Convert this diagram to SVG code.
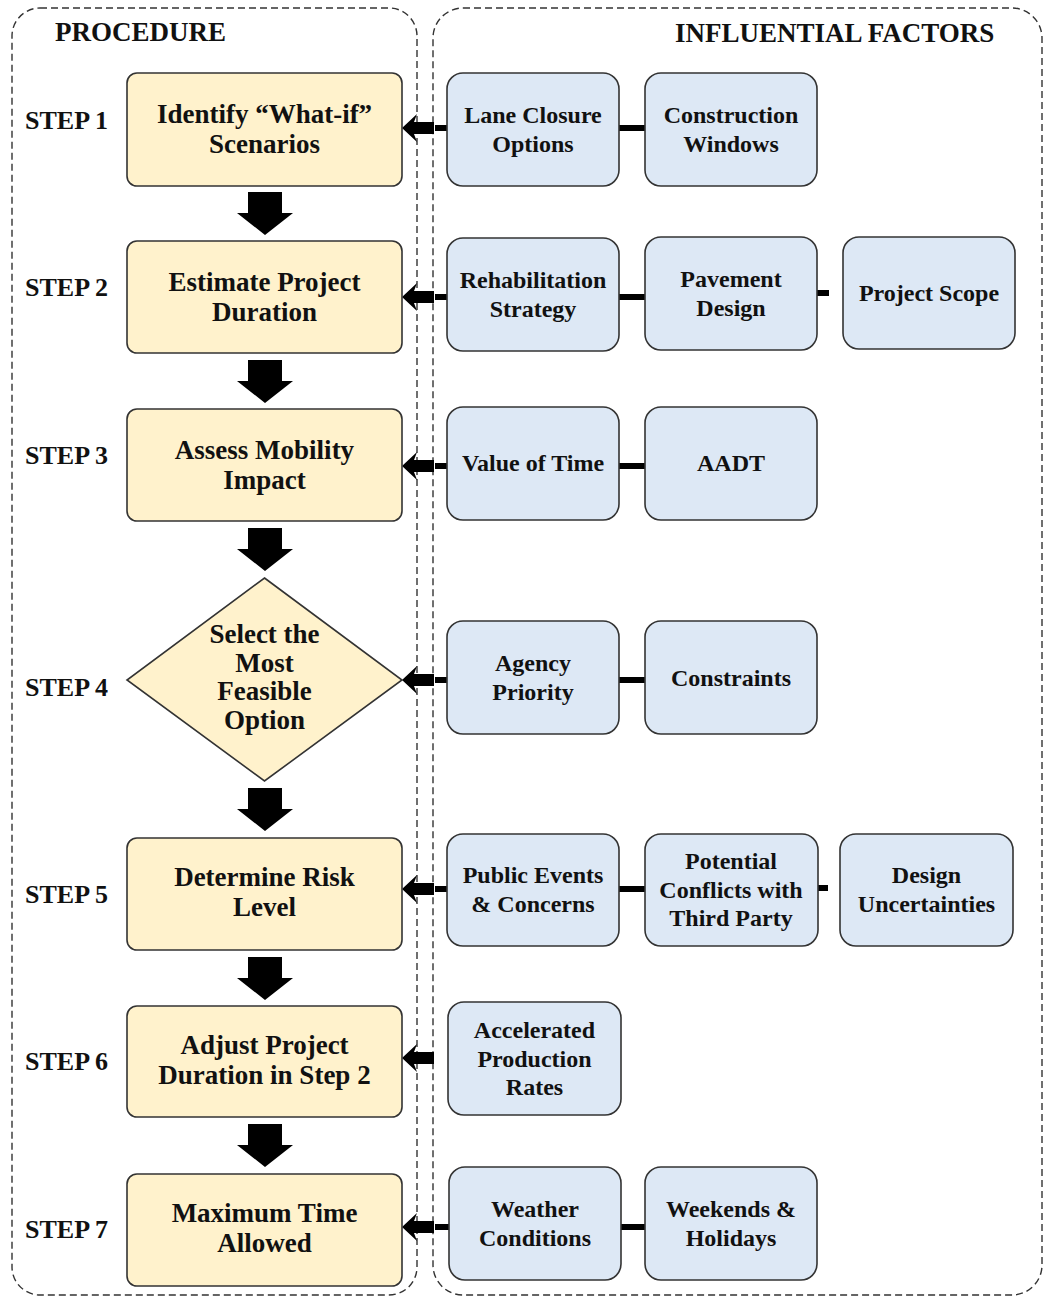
<svg xmlns="http://www.w3.org/2000/svg" width="1044" height="1296" viewBox="0 0 1044 1296">
<style>
text{font-family:"Liberation Serif","Times New Roman",serif;font-weight:bold;fill:#111;}
.hdr{font-size:27px;}
.lbl{font-size:26px;}
.st{font-size:27px;text-anchor:middle;}
.ft{font-size:24px;text-anchor:middle;}
.step{fill:#fff2cc;stroke:#333;stroke-width:1.6;}
.fac{fill:#dde8f5;stroke:#333;stroke-width:1.6;}
.cont{fill:none;stroke:#333;stroke-width:1.4;stroke-dasharray:7 4;}
.ln{stroke:#000;stroke-width:6;fill:none;}
</style>
<defs>
<path id="la" d="M0,0 L15,-14 L12,-6 L32,-6 L32,6 L12,6 L15,14 Z" fill="#000"/>
<path id="da" d="M-17,0 L17,0 L17,21 L28,21 L0,43 L-28,21 L-17,21 Z" fill="#000"/>
</defs>
<rect width="1044" height="1296" fill="#fff"/>
<g id="containers">
<rect class="cont" x="12" y="8" width="405" height="1287" rx="28"/>
<rect class="cont" x="433" y="8" width="609" height="1287" rx="30"/>
<text class="hdr" x="55" y="41">PROCEDURE</text>
<text class="hdr" x="675" y="42">INFLUENTIAL FACTORS</text>
</g>
<g id="labels">
<text class="lbl" x="25" y="129">STEP 1</text>
<text class="lbl" x="25" y="296">STEP 2</text>
<text class="lbl" x="25" y="464">STEP 3</text>
<text class="lbl" x="25" y="696">STEP 4</text>
<text class="lbl" x="25" y="903">STEP 5</text>
<text class="lbl" x="25" y="1070">STEP 6</text>
<text class="lbl" x="25" y="1238">STEP 7</text>
</g>
<g id="connectors">
<use href="#da" x="265" y="192"/>
<use href="#da" x="265" y="360"/>
<use href="#da" x="265" y="528"/>
<use href="#da" x="265" y="788"/>
<use href="#da" x="265" y="957"/>
<use href="#da" x="265" y="1124"/>
<use href="#la" x="402" y="128"/>
<use href="#la" x="402" y="297"/>
<use href="#la" x="402" y="466"/>
<use href="#la" x="402" y="680"/>
<use href="#la" x="402" y="889"/>
<use href="#la" x="402" y="1058"/>
<use href="#la" x="402" y="1227"/>
<path class="ln" d="M435,128H448 M435,297H448 M435,466H448 M435,680H448 M435,889H448 M435,1227H450"/>
<path class="ln" d="M619,128H646 M619,297H646 M817,293H829 M619,466H646 M619,680H646 M619,889H646 M818,888H828 M621,1227H646"/>
</g>
<g id="step1"><rect class="step" x="127" y="73" width="275" height="113" rx="10"/><text class="st" x="264.5" y="122.5">Identify “What-if”<tspan x="264.5" y="152.5">Scenarios</tspan></text></g>
<g id="step2"><rect class="step" x="127" y="241" width="275" height="112" rx="10"/><text class="st" x="264.5" y="291">Estimate Project<tspan x="264.5" y="321">Duration</tspan></text></g>
<g id="step3"><rect class="step" x="127" y="409" width="275" height="112" rx="10"/><text class="st" x="264.5" y="459">Assess Mobility<tspan x="264.5" y="489">Impact</tspan></text></g>
<g id="step4"><polygon class="step" points="264.5,578 402,680 264.5,781 127,680"/><text class="st" x="264.5" y="643">Select the<tspan x="264.5" y="672">Most</tspan><tspan x="264.5" y="700">Feasible</tspan><tspan x="264.5" y="729">Option</tspan></text></g>
<g id="step5"><rect class="step" x="127" y="838" width="275" height="112" rx="10"/><text class="st" x="264.5" y="886">Determine Risk<tspan x="264.5" y="916">Level</tspan></text></g>
<g id="step6"><rect class="step" x="127" y="1006" width="275" height="111" rx="10"/><text class="st" x="264.5" y="1054">Adjust Project<tspan x="264.5" y="1084">Duration in Step 2</tspan></text></g>
<g id="step7"><rect class="step" x="127" y="1174" width="275" height="112" rx="10"/><text class="st" x="264.5" y="1222">Maximum Time<tspan x="264.5" y="1252">Allowed</tspan></text></g>
<g id="f-lane"><rect class="fac" x="447" y="73" width="172" height="113" rx="16"/><text class="ft" x="533" y="123">Lane Closure<tspan x="533" y="152">Options</tspan></text></g>
<g id="f-windows"><rect class="fac" x="645" y="73" width="172" height="113" rx="16"/><text class="ft" x="731" y="123">Construction<tspan x="731" y="152">Windows</tspan></text></g>
<g id="f-rehab"><rect class="fac" x="447" y="238" width="172" height="113" rx="16"/><text class="ft" x="533" y="288">Rehabilitation<tspan x="533" y="317">Strategy</tspan></text></g>
<g id="f-pavement"><rect class="fac" x="645" y="237" width="172" height="113" rx="16"/><text class="ft" x="731" y="287">Pavement<tspan x="731" y="316">Design</tspan></text></g>
<g id="f-scope"><rect class="fac" x="843" y="237" width="172" height="112" rx="16"/><text class="ft" x="929" y="301">Project Scope</text></g>
<g id="f-vot"><rect class="fac" x="447" y="407" width="172" height="113" rx="16"/><text class="ft" x="533" y="471">Value of Time</text></g>
<g id="f-aadt"><rect class="fac" x="645" y="407" width="172" height="113" rx="16"/><text class="ft" x="731" y="471">AADT</text></g>
<g id="f-agency"><rect class="fac" x="447" y="621" width="172" height="113" rx="16"/><text class="ft" x="533" y="671">Agency<tspan x="533" y="700">Priority</tspan></text></g>
<g id="f-constraints"><rect class="fac" x="645" y="621" width="172" height="113" rx="16"/><text class="ft" x="731" y="686">Constraints</text></g>
<g id="f-public"><rect class="fac" x="447" y="834" width="172" height="112" rx="16"/><text class="ft" x="533" y="883">Public Events<tspan x="533" y="912">&amp; Concerns</tspan></text></g>
<g id="f-conflicts"><rect class="fac" x="645" y="834" width="173" height="112" rx="16"/><text class="ft" x="731" y="869">Potential<tspan x="731" y="898">Conflicts with</tspan><tspan x="731" y="926">Third Party</tspan></text></g>
<g id="f-design"><rect class="fac" x="840" y="834" width="173" height="112" rx="16"/><text class="ft" x="926.5" y="883">Design<tspan x="926.5" y="912">Uncertainties</tspan></text></g>
<g id="f-accel"><rect class="fac" x="448" y="1002" width="173" height="113" rx="16"/><text class="ft" x="534.5" y="1038">Accelerated<tspan x="534.5" y="1067">Production</tspan><tspan x="534.5" y="1095">Rates</tspan></text></g>
<g id="f-weather"><rect class="fac" x="449" y="1167" width="172" height="113" rx="16"/><text class="ft" x="535" y="1217">Weather<tspan x="535" y="1246">Conditions</tspan></text></g>
<g id="f-weekends"><rect class="fac" x="645" y="1167" width="172" height="113" rx="16"/><text class="ft" x="731" y="1217">Weekends &amp;<tspan x="731" y="1246">Holidays</tspan></text></g>
</svg>
